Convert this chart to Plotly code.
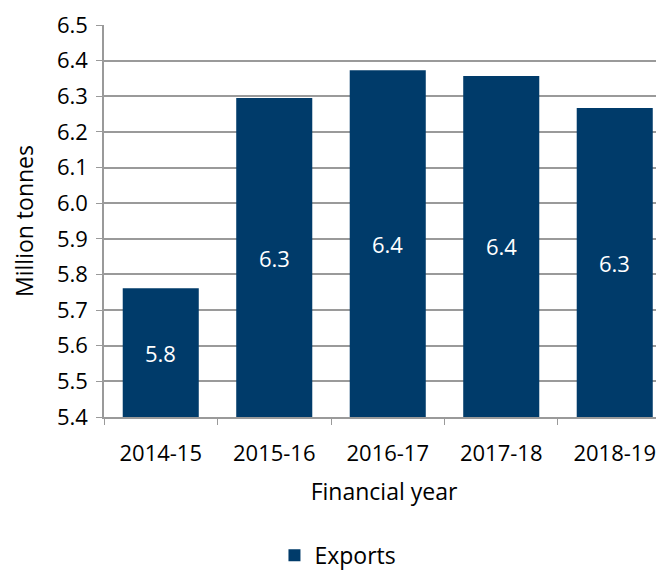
import plotly.graph_objects as go

years = ["2014-15", "2015-16", "2016-17", "2017-18", "2018-19"]
exports = [5.761, 6.295, 6.373, 6.357, 6.267]
labels = ["5.8", "6.3", "6.4", "6.4", "6.3"]
y_min, y_max = 5.4, 6.5

font = "Open Sans, Lato, sans-serif"
bar_colour = "#003B6A"
grid_colour = "#9A9A9A"

fig = go.Figure()
fig.add_trace(go.Bar(
    x=years, y=exports, name="Exports",
    marker=dict(color=bar_colour, line=dict(width=0)),
    width=0.67,
))

# value labels sit in the middle of the visible part of each bar
for yr, v, lab in zip(years, exports, labels):
    fig.add_annotation(
        x=yr, y=(y_min + v) / 2, text=lab, showarrow=False,
        font=dict(color="white", size=22, family=font),
    )

# page has an 8px body margin, so the figure is a bit smaller than the window
fig.update_layout(
    width=656, height=566,
    margin=dict(l=96, r=0, t=17, b=157),
    plot_bgcolor="white", paper_bgcolor="white",
    font=dict(family=font, size=22, color="black"),
    showlegend=True,
    legend=dict(
        orientation="h",
        xref="container", yref="container",
        x=0.503, xanchor="center", y=0.033, yanchor="middle",
        font=dict(size=23), itemwidth=30,
    ),
    xaxis=dict(
        range=[-0.5, 4.434],
        showline=True, linecolor=grid_colour, linewidth=1.5,
        ticks="outside", tickson="boundaries", ticklen=6, tickcolor=grid_colour,
        ticklabelstandoff=16,
        tickfont=dict(size=22),
        title=dict(text="Financial year", font=dict(size=23), standoff=18),
        showgrid=False,
    ),
    yaxis=dict(
        range=[y_min, y_max], dtick=0.1, tickformat=".1f",
        showline=True, linecolor=grid_colour, linewidth=1.5,
        ticks="outside", ticklen=6, tickcolor=grid_colour,
        ticklabelstandoff=4,
        showgrid=True, gridcolor=grid_colour, gridwidth=1.5,
        tickfont=dict(size=22),
        title=dict(text="Million tonnes", font=dict(size=23), standoff=30),
        zeroline=False,
    ),
)

fig.write_html("out.html")
